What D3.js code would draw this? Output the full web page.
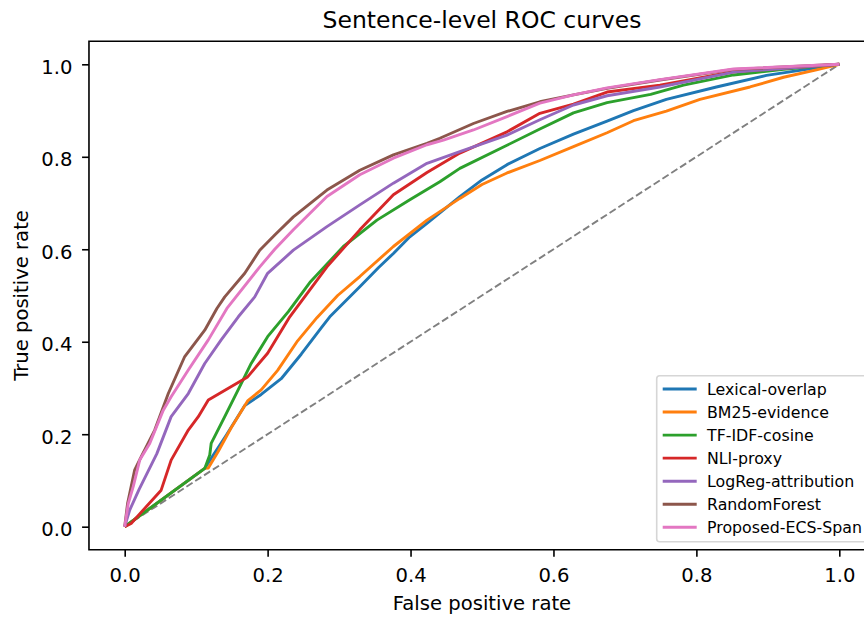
<!DOCTYPE html>
<html>
<head>
<meta charset="utf-8">
<script src="https://cdn.jsdelivr.net/npm/d3@7/dist/d3.min.js"></script>
<style>
  body { margin: 0; background: #fff; }
  svg { display: block; font-family: "DejaVu Sans", sans-serif; }
</style>
</head>
<body>
<div id="roc-chart"></div>
<script>
// Series names, in drawing order
var seriesNames = ["Lexical-overlap", "BM25-evidence", "TF-IDF-cosine", "NLI-proxy",
  "LogReg-attribution", "RandomForest", "Proposed-ECS-Span"];

// ROC points [false positive rate, true positive rate]
var lexicalOverlap = [[0,0],[0.112,0.126],[0.124,0.155],[0.143,0.2],[0.168,0.262],[0.191,0.286],
  [0.219,0.32],[0.247,0.373],[0.275,0.43],[0.287,0.454],[0.329,0.519],[0.355,0.56],[0.376,0.591],
  [0.399,0.627],[0.423,0.656],[0.469,0.714],[0.5,0.75],[0.535,0.783],[0.581,0.818],[0.628,0.849],
  [0.675,0.877],[0.712,0.9],[0.758,0.924],[0.828,0.951],[0.898,0.976],[0.954,0.989],[1,1]];

var bm25Evidence = [[0,0],[0.112,0.126],[0.117,0.127],[0.131,0.163],[0.149,0.214],[0.172,0.272],
  [0.191,0.296],[0.214,0.338],[0.242,0.402],[0.269,0.452],[0.298,0.5],[0.329,0.541],[0.376,0.606],
  [0.423,0.663],[0.469,0.71],[0.5,0.74],[0.535,0.765],[0.581,0.792],[0.628,0.822],[0.675,0.852],
  [0.712,0.878],[0.758,0.899],[0.805,0.924],[0.875,0.951],[0.922,0.972],[0.968,0.988],[1,1]];

var tfidfCosine = [[0,0],[0.112,0.126],[0.119,0.155],[0.121,0.18],[0.14,0.238],[0.161,0.303],
  [0.177,0.353],[0.2,0.411],[0.229,0.465],[0.259,0.528],[0.306,0.606],[0.353,0.663],[0.399,0.707],
  [0.441,0.746],[0.469,0.775],[0.535,0.825],[0.581,0.86],[0.628,0.895],[0.675,0.917],[0.736,0.935],
  [0.782,0.955],[0.852,0.977],[0.922,0.989],[1,1]];

var nliProxy = [[0,0],[0.009,0.007],[0.051,0.079],[0.065,0.144],[0.089,0.209],[0.103,0.238],
  [0.117,0.274],[0.172,0.324],[0.2,0.375],[0.231,0.454],[0.283,0.562],[0.329,0.642],[0.376,0.718],
  [0.423,0.766],[0.469,0.808],[0.535,0.854],[0.581,0.894],[0.628,0.914],[0.675,0.94],[0.749,0.955],
  [0.852,0.984],[1,1]];

var logregAttribution = [[0,0],[0.007,0.036],[0.02,0.08],[0.045,0.158],[0.065,0.238],[0.089,0.288],
  [0.112,0.353],[0.135,0.404],[0.159,0.454],[0.182,0.497],[0.2,0.548],[0.236,0.598],
  [0.283,0.649],[0.329,0.696],[0.376,0.743],[0.423,0.786],[0.469,0.811],[0.535,0.847],[0.581,0.88],
  [0.628,0.912],[0.675,0.932],[0.749,0.951],[0.852,0.983],[1,1]];

var randomForest = [[0,0],[0.004,0.05],[0.014,0.123],[0.023,0.151],[0.042,0.209],[0.061,0.288],
  [0.084,0.368],[0.112,0.425],[0.129,0.472],[0.14,0.497],[0.168,0.548],[0.189,0.598],[0.21,0.631],
  [0.236,0.67],[0.283,0.728],[0.329,0.771],[0.376,0.804],[0.423,0.829],[0.441,0.84],[0.488,0.872],
  [0.535,0.898],[0.581,0.919],[0.628,0.934],[0.675,0.948],[0.749,0.966],[0.852,0.989],[1,1]];

var proposedEcsSpan = [[0,0],[0.005,0.05],[0.012,0.087],[0.021,0.144],[0.035,0.18],[0.054,0.252],
  [0.065,0.281],[0.089,0.339],[0.117,0.404],[0.143,0.472],[0.189,0.562],[0.21,0.6],[0.236,0.642],
  [0.283,0.714],[0.329,0.761],[0.376,0.797],[0.423,0.826],[0.446,0.836],[0.488,0.858],[0.535,0.887],
  [0.581,0.916],[0.628,0.934],[0.675,0.949],[0.749,0.967],[0.852,0.99],[1,1]];

var seriesValues = [lexicalOverlap, bm25Evidence, tfidfCosine, nliProxy,
  logregAttribution, randomForest, proposedEcsSpan];

// Tick labels for both axes
var tickValues = [0, 0.2, 0.4, 0.6, 0.8, 1.0];

// Chart dimensions (the axes run past the right edge, as in the original)
var width = 864;
var height = 617;
var plot = { left: 88.97, right: 875.03, top: 41.2, bottom: 549.8 };

var svg = d3.select("#roc-chart")
  .append("svg")
  .attr("width", width)
  .attr("height", height);

// Scales with matplotlib's 5% margin
var xScale = d3.scaleLinear()
  .domain([-0.05, 1.05])
  .range([plot.left, plot.right]);

var yScale = d3.scaleLinear()
  .domain([-0.05, 1.05])
  .range([plot.bottom, plot.top]);

var colorScale = d3.scaleOrdinal()
  .domain(seriesNames)
  .range(["#1f77b4", "#ff7f0e", "#2ca02c", "#d62728", "#9467bd", "#8c564b", "#e377c2"]);

// Chance diagonal
svg.append("line")
  .attr("x1", xScale(0))
  .attr("y1", yScale(0))
  .attr("x2", xScale(1))
  .attr("y2", yScale(1))
  .attr("stroke", "#808080")
  .attr("stroke-width", 1.9)
  .attr("stroke-dasharray", "7.3,3.2");

// ROC curves
var line = d3.line()
  .x(function (d) { return xScale(d[0]); })
  .y(function (d) { return yScale(d[1]); });

seriesNames.forEach(function (name, i) {
  svg.append("path")
    .datum(seriesValues[i])
    .attr("fill", "none")
    .attr("stroke", colorScale(name))
    .attr("stroke-width", 2.9)
    .attr("stroke-linejoin", "round")
    .attr("d", line);
});

// Axes frame (left, top, bottom spines)
svg.append("path")
  .attr("d", "M" + plot.right + "," + plot.top + "H" + plot.left + "V" + plot.bottom + "H" + plot.right)
  .attr("fill", "none")
  .attr("stroke", "#000")
  .attr("stroke-width", 1.6);

var fmt = d3.format(".1f");

// x-axis
var xAxis = svg.append("g")
  .attr("transform", "translate(0," + plot.bottom + ")")
  .call(d3.axisBottom(xScale).tickValues(tickValues).tickFormat(fmt).tickSize(6.9).tickSizeOuter(0));
xAxis.select(".domain").remove();
xAxis.selectAll("line").attr("stroke", "#000").attr("stroke-width", 1.6);
xAxis.selectAll("text")
  .attr("y", 31.9)
  .attr("dy", 0)
  .style("font-size", "19.6px")
  .style("font-family", "DejaVu Sans")
  .style("fill", "#000");

// y-axis
var yAxis = svg.append("g")
  .attr("transform", "translate(" + plot.left + ",0)")
  .call(d3.axisLeft(yScale).tickValues(tickValues).tickFormat(fmt).tickSize(6.9).tickSizeOuter(0));
yAxis.select(".domain").remove();
yAxis.selectAll("line").attr("stroke", "#000").attr("stroke-width", 1.6);
yAxis.selectAll("text")
  .attr("x", -16.5)
  .attr("dy", "0.46em")
  .style("font-size", "19.6px")
  .style("font-family", "DejaVu Sans")
  .style("fill", "#000");

// Axis labels
svg.append("text")
  .attr("x", (plot.left + plot.right) / 2)
  .attr("y", 610)
  .attr("text-anchor", "middle")
  .style("font-size", "19.6px")
  .text("False positive rate");

svg.append("text")
  .attr("transform", "translate(28.3," + ((plot.top + plot.bottom) / 2) + ") rotate(-90)")
  .attr("text-anchor", "middle")
  .style("font-size", "19.6px")
  .text("True positive rate");

// Chart title
svg.append("text")
  .attr("x", (plot.left + plot.right) / 2)
  .attr("y", 28.3)
  .attr("text-anchor", "middle")
  .style("font-size", "23.5px")
  .text("Sentence-level ROC curves");

// Legend
svg.append("rect")
  .attr("x", 656.7)
  .attr("y", 375.7)
  .attr("width", 214)
  .attr("height", 166)
  .attr("rx", 3)
  .attr("fill", "#fff")
  .attr("fill-opacity", 0.8)
  .attr("stroke", "#d6d6d6")
  .attr("stroke-width", 1.6);

var legend = svg.selectAll(".legend")
  .data(seriesNames)
  .enter().append("g")
  .attr("class", "legend")
  .attr("transform", function (d, i) { return "translate(0," + (389 + i * 23.05) + ")"; });

legend.append("line")
  .attr("x1", 662.7)
  .attr("x2", 696.7)
  .attr("stroke", colorScale)
  .attr("stroke-width", 2.9);

legend.append("text")
  .attr("x", 707)
  .attr("dy", "0.37em")
  .style("font-size", "15.8px")
  .style("fill", "#000")
  .text(function (d) { return d; });
</script>
</body>
</html>
